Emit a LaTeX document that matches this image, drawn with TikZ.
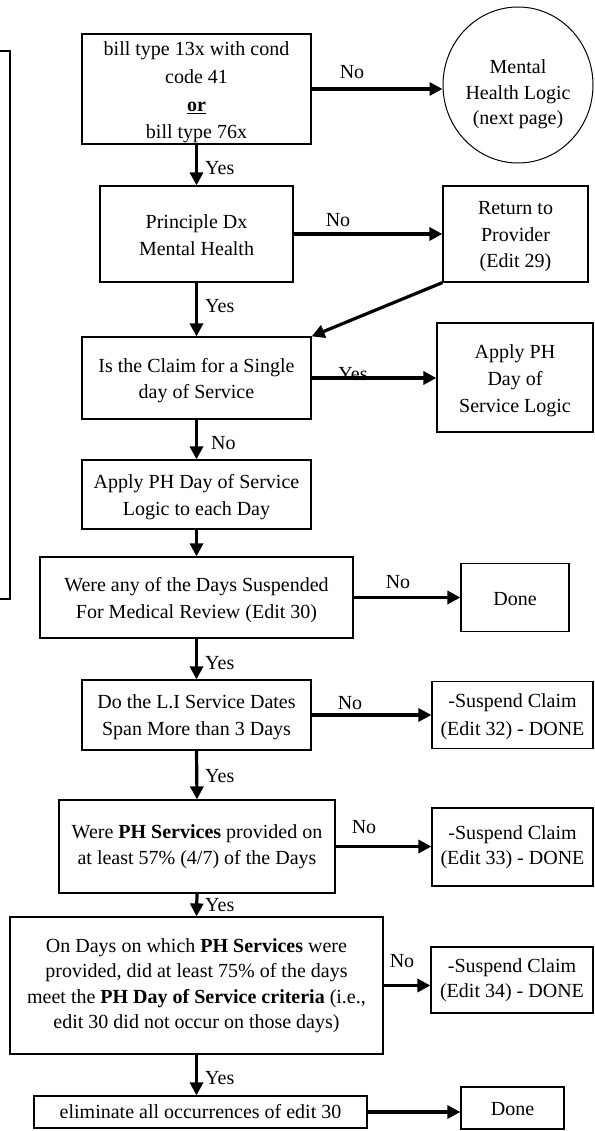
\documentclass[tikz,border=0pt]{standalone}
\usepackage{fontspec}
\setmainfont{Liberation Serif}
\usetikzlibrary{arrows.meta,shapes.geometric}
\newcommand{\myTop}[1]{\rule{0pt}{#1}}
\newcommand{\myBot}{\rule[-6pt]{0pt}{6pt}}
\begin{document}
\begin{tikzpicture}[x=1pt,y=-1pt,
  box/.style={draw,line width=1.2pt,align=center,inner sep=0pt,font=\fontsize{20}{25.5}\selectfont},
  lowtext/.style={font=\fontsize{20}{26.5}\selectfont},
  lbl/.style={inner sep=0pt,font=\fontsize{20}{24}\selectfont},
  arr/.style={line width=3.2pt,-{Triangle[length=13pt,width=13pt]}}]
\useasboundingbox (0,0) rectangle (594,1131);
% left partial box
\draw[line width=1.2pt] (-5,51) -- (10,51) -- (10,599) -- (-5,599);
% nodes
\node[box,minimum width=229pt,minimum height=110pt,font=\fontsize{20}{27.7}\selectfont] (b1) at (196.5,89)
  {\myTop{21pt}bill type 13x with cond\\code 41\\\underline{\textbf{or}}\\bill type 76x};
\node[draw,line width=1pt,ellipse,minimum width=150pt,minimum height=156pt,inner sep=0pt,align=center,
  font=\fontsize{20}{25.5}\selectfont] (ell) at (518,85)
  {\myTop{33pt}Mental\\Health Logic\\(next page)};
\node[box,lowtext,minimum width=193pt,minimum height=96pt] (b2) at (196.5,234) {\myTop{22pt}Principle Dx\\Mental Health\myBot};
\node[box,lowtext,minimum width=145pt,minimum height=96pt] (rtp) at (515.5,234) {\myTop{21pt}Return to\\Provider\\(Edit 29)\myBot};
\node[box,lowtext,minimum width=229pt,minimum height=82pt] (b3) at (196.5,378) {\myTop{21pt}Is the Claim for a Single\\day of Service\myBot};
\node[box,minimum width=156pt,minimum height=109pt,font=\fontsize{20}{27}\selectfont] (aph) at (515,377.5) {\myTop{21pt}Apply PH\\Day of\\Service Logic\myBot};
\node[box,lowtext,minimum width=229pt,minimum height=69pt] (b4) at (196.5,494.5) {\myTop{21pt}Apply PH Day of Service\\Logic to each Day\myBot};
\node[box,lowtext,minimum width=313pt,minimum height=81pt] (b5) at (196.5,597.5) {\myTop{21pt}Were any of the Days Suspended\\For Medical Review (Edit 30)\myBot};
\node[box,minimum width=108pt,minimum height=68pt] (d1) at (515,597.5) {\myTop{21pt}Done\myBot};
\node[box,lowtext,minimum width=229pt,minimum height=70pt] (b6) at (196.5,715) {\myTop{20pt}Do the L.I Service Dates\\Span More than 3 Days\myBot};
\node[box,minimum width=161pt,minimum height=67pt,font=\fontsize{20}{28}\selectfont] (s32) at (512.5,715) {\myTop{19pt}-Suspend Claim\\(Edit 32) - DONE\myBot};
\node[box,minimum width=276pt,minimum height=93pt] (b7) at (197,846.5) {Were \textbf{PH Services} provided on\\at least 57\% (4/7) of the Days};
\node[box,minimum width=161pt,minimum height=78pt] (s33) at (512.5,847) {-Suspend Claim\\(Edit 33) - DONE};
\node[box,minimum width=373pt,minimum height=137pt] (b8) at (196.5,985.5) {On Days on which \textbf{PH Services} were\\provided, did at least 75\% of the days\\meet the \textbf{PH Day of Service criteria} (i.e.,\\edit 30 did not occur on those days)};
\node[box,minimum width=162pt,minimum height=66pt] (s34) at (512,980) {-Suspend Claim\\(Edit 34) - DONE};
\node[box,minimum width=333pt,minimum height=32pt] (b9) at (200.5,1112) {\myTop{19pt}eliminate all occurrences of edit 30\myBot};
\node[box,minimum width=103pt,minimum height=42pt] (d2) at (512.5,1108) {\myTop{21pt}Done\myBot};
% connectors
\draw[arr] (b1.east) -- (b1.east -| ell.west);
\draw[arr] (b1.south) -- (b2.north);
\draw[arr] (b2.east) -- (rtp.west);
\draw[arr] (b2.south) -- (b3.north);
\draw[arr] (rtp.south west) -- (b3.north east);
\draw[arr] (b3.east) -- (b3.east -| aph.west);
\draw[arr] (b3.south) -- (b4.north);
\draw[arr] (b4.south) -- (b5.north);
\draw[arr] (b5.east) -- (d1.west);
\draw[arr] (b5.south) -- (b6.north);
\draw[arr] (b6.east) -- (s32.west);
\draw[arr] (b6.south) -- (b7.north);
\draw[arr] (b7.east) -- (b7.east -| s33.west);
\draw[arr] (b7.south) -- (b8.north);
\draw[arr] (b8.east) -- (b8.east -| s34.west);
\draw[arr] (b8.south) -- (b8.south |- b9.north);
\draw[arr] (b9.east) -- (b9.east -| d2.west);
% labels
\node[lbl] (l1) at (352,72) {No};
\node[lbl,anchor=west] (l2) at (205,168) {Yes};
\node[lbl] (l3) at (338,220) {No};
\node[lbl,anchor=west] (l4) at (205,306) {Yes};
\node[lbl] (l5) at (353,374) {Yes};
\node[lbl,anchor=west] (l6) at (211,443) {No};
\node[lbl] (l7) at (398,582) {No};
\node[lbl,anchor=west] (l8) at (205,663) {Yes};
\node[lbl] (l9) at (350,703) {No};
\node[lbl,anchor=west] (l10) at (205,776) {Yes};
\node[lbl] (l11) at (364,827) {No};
\node[lbl,anchor=west] (l12) at (205,905) {Yes};
\node[lbl] (l13) at (402,961) {No};
\node[lbl,anchor=west] (l14) at (205,1078) {Yes};
\end{tikzpicture}
\end{document}
